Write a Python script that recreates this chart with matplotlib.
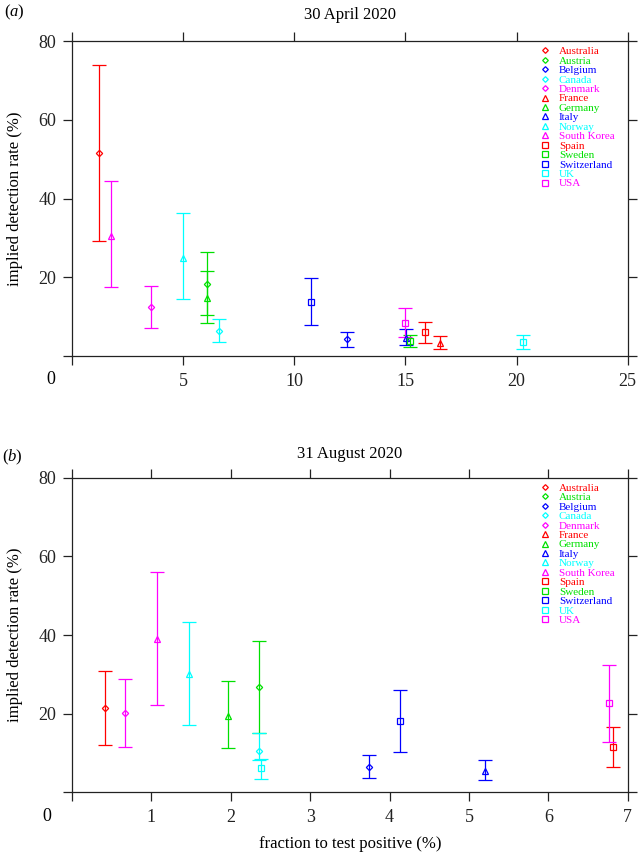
import numpy as np
import matplotlib
matplotlib.use('Agg')
import matplotlib.pyplot as plt
from matplotlib.lines import Line2D
from matplotlib.ticker import FuncFormatter

plt.rcParams['font.family'] = ['Liberation Serif', 'DejaVu Serif']
plt.rcParams['mathtext.fontset'] = 'custom'
plt.rcParams['mathtext.rm'] = 'Liberation Serif'
plt.rcParams['mathtext.it'] = 'Liberation Serif:italic'

countries = ['Australia', 'Austria', 'Belgium', 'Canada', 'Denmark',
             'France', 'Germany', 'Italy', 'Norway', 'South Korea',
             'Spain', 'Sweden', 'Switzerland', 'UK', 'USA']
colours = ['#ff0000', '#00e000', '#0000ff', '#00ffff', '#ff00ff'] * 3
markers = ['D'] * 5 + ['^'] * 5 + ['s'] * 5
msizes = {'D': 3.2, '^': 4.6, 's': 5.0}

# 30 April 2020
apr_x = [1.21, 6.09, 12.39, 6.62, 3.55, 16.56, 6.09, 15.03, 5.01, 1.75,
         15.86, 15.21, 10.75, 20.27, 14.97]
apr_y = [51.5, 18.3, 4.2, 6.4, 12.4, 3.4, 14.8, 4.5, 25.0, 30.6,
         6.0, 3.9, 13.8, 3.6, 8.5]
apr_lo = [29.3, 10.4, 2.4, 3.6, 7.0, 1.9, 8.5, 2.8, 14.4, 17.6,
          3.4, 2.4, 7.9, 1.9, 4.9]
apr_hi = [74.0, 26.3, 6.0, 9.3, 17.8, 5.1, 21.6, 6.9, 36.2, 44.4,
          8.6, 5.3, 19.9, 5.3, 12.3]

# 31 August 2020 (no France, Sweden)
nan = np.nan
aug_x = [0.42, 2.35, 3.74, 2.36, 0.67, nan, 1.96, 5.20, 1.47, 1.07,
         6.81, nan, 4.13, 2.38, 6.76]
aug_y = [21.4, 26.9, 6.5, 10.5, 20.1, nan, 19.4, 5.5, 30.0, 38.9,
         11.6, nan, 18.1, 6.1, 22.7]
aug_lo = [12.1, 15.2, 3.6, 8.2, 11.4, nan, 11.2, 3.1, 17.1, 22.1,
          6.5, nan, 10.3, 3.4, 12.9]
aug_hi = [30.8, 38.5, 9.4, 15.2, 28.8, nan, 28.2, 8.1, 43.2, 56.1,
          16.7, nan, 26.0, 8.6, 32.5]

fig = plt.figure(figsize=(6.38, 8.55), dpi=100)
ax1 = fig.add_axes([0.1129, 0.5836, 0.871, 0.3684])
ax2 = fig.add_axes([0.1129, 0.0733, 0.871, 0.368])


def draw_panel(ax, xs, ys, los, his, xmax, xstep, title, tpad, zero_x):
    for i in range(len(countries)):
        if np.isnan(xs[i]):
            continue
        ax.errorbar([xs[i]], [ys[i]],
                    yerr=[[ys[i] - los[i]], [his[i] - ys[i]]],
                    fmt=markers[i], ms=msizes[markers[i]], mfc='none',
                    mec=colours[i], mew=0.9, ecolor=colours[i],
                    elinewidth=0.9, capsize=4.8, capthick=0.9)
    ax.set_xlim(0, xmax)
    ax.set_ylim(0, 80)
    ax.set_xticks(np.arange(0, xmax + 0.01, xstep))
    ax.set_yticks([0, 20, 40, 60, 80])
    blank0 = FuncFormatter(lambda v, p: '' if v == 0 else '%g' % v)
    ax.xaxis.set_major_formatter(blank0)
    ax.yaxis.set_major_formatter(blank0)
    ax.tick_params(direction='out', length=6.8, width=0.9, labelsize=13,
                   top=True, right=True, colors='#222222')
    ax.tick_params(axis='x', pad=5.5)
    ax.tick_params(axis='y', pad=4.5)
    for s in ax.spines.values():
        s.set_linewidth(0.9)
        s.set_color('#222222')
    ax.text(zero_x, -0.076, '0', transform=ax.transAxes, fontsize=13,
            ha='center', va='center')
    ax.set_ylabel('implied detection rate (%)', fontsize=12, labelpad=11)
    ax.set_title(title, fontsize=12, pad=tpad)

    handles = [Line2D([], [], ls='none', marker=markers[i],
                      ms=msizes[markers[i]] * 0.9, mfc='none',
                      mec=colours[i], mew=0.9, label=countries[i])
               for i in range(len(countries))]
    leg = ax.legend(handles=handles, loc='upper left',
                    bbox_to_anchor=(0.8407, 0.983), frameon=False,
                    fontsize=8, handlelength=1.0, handletextpad=0.76,
                    labelspacing=-0.03, borderpad=0, borderaxespad=0)
    for t, c in zip(leg.get_texts(), colours):
        t.set_color(c)


draw_panel(ax1, apr_x, apr_y, apr_lo, apr_hi, 25, 5, '30 April 2020', 16, -0.038)
draw_panel(ax2, aug_x, aug_y, aug_lo, aug_hi, 7, 1, '31 August 2020', 14, -0.045)
ax2.set_xlabel('fraction to test positive (%)', fontsize=12, labelpad=7)

fig.text(0.007, 1 - 12.5 / 855, r'($\mathit{a}$)', fontsize=12, va='center')
fig.text(0.003, 1 - 457 / 855, r'($\mathit{b}$)', fontsize=12, va='center')

plt.savefig('out.png', dpi=100)
